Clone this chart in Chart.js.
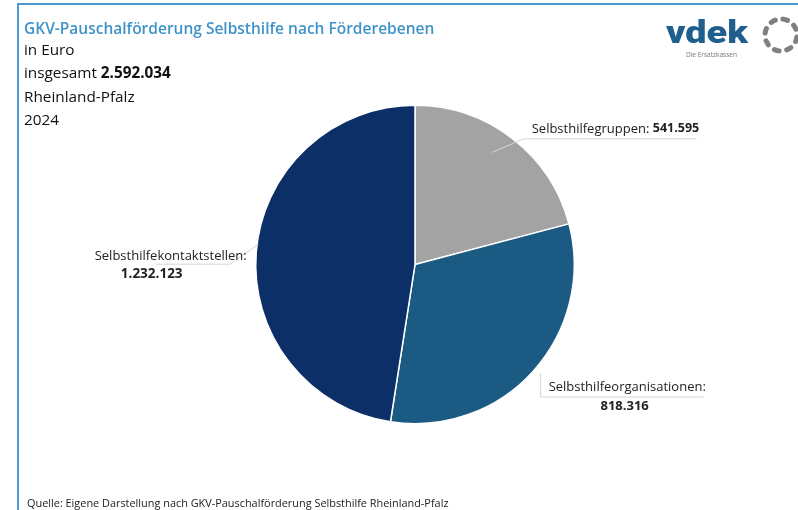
<!DOCTYPE html>
<html>
<head>
<meta charset="utf-8">
<script src="https://cdn.jsdelivr.net/npm/chart.js@4.4.1/dist/chart.umd.min.js"></script>
<style>
  html, body { margin: 0; padding: 0; background: #fff; }
  #wrap { position: relative; width: 798px; height: 510px; overflow: hidden; font-family: "Open Sans", sans-serif; }
  #frameTop { position: absolute; left: 17px; top: 3px; width: 781px; height: 2px; background: #4a9ad0; }
  #frameLeft { position: absolute; left: 17px; top: 3px; width: 2px; height: 507px; background: #4a9ad0; }
  #c { position: absolute; left: 0; top: 0; }
  .t { position: absolute; white-space: nowrap; }
  #title { left: 24px; top: 17px; font-size: 15.5px; font-weight: 600; color: #3f93c9; }
  .sub { left: 24px; font-size: 15.3px; color: #111; }
  #vdek { left: 666px; top: 14px; font-family: "Roboto", sans-serif; font-weight: 900; font-size: 31px; color: #1e5f8e; transform: scale(1.22, 1); transform-origin: left top; }
  #ersatz { left: 686px; top: 50px; font-size: 6.5px; color: #777; }
  #source { left: 27px; top: 495px; font-size: 10.9px; color: #222; }
</style>
</head>
<body>
<div id="wrap">
  <canvas id="c" width="798" height="510"></canvas>
  <div id="frameTop"></div>
  <div id="frameLeft"></div>
  <div class="t" id="title">GKV-Pauschalförderung Selbsthilfe nach Förderebenen</div>
  <div class="t sub" style="top:39px">in Euro</div>
  <div class="t sub" style="top:62px">insgesamt <b>2.592.034</b></div>
  <div class="t sub" style="top:86px">Rheinland-Pfalz</div>
  <div class="t sub" style="top:109px">2024</div>
  <div class="t" id="vdek">vdek</div>
  <div class="t" id="ersatz">Die Ersatzkassen</div>
  <div class="t" id="source">Quelle: Eigene Darstellung nach GKV-Pauschalförderung Selbsthilfe Rheinland-Pfalz</div>
</div>
<script>
const categories = ["Selbsthilfegruppen", "Selbsthilfeorganisationen", "Selbsthilfekontaktstellen"];
const values = [541595, 818316, 1232123];
const valueLabels = ["541.595", "818.316", "1.232.123"];
const colors = ["#a3a3a3", "#1b5a82", "#0b2f66"];

const labelPlugin = {
  id: 'sliceLabels',
  afterDraw(chart) {
    const ctx = chart.ctx;
    const meta = chart.getDatasetMeta(0);
    // logo dotted ring
    ctx.save();
    ctx.strokeStyle = '#808080';
    ctx.lineWidth = 5;
    ctx.lineCap = 'round';
    const cxL = 781, cyL = 35, rL = 16, n = 8;
    for (let i = 0; i < n; i++) {
      const a0 = (i / n) * Math.PI * 2 + 0.12;
      ctx.beginPath();
      ctx.arc(cxL, cyL, rL, a0, a0 + 0.3);
      ctx.stroke();
    }
    ctx.restore();

    meta.data.forEach((arc, i) => {
      const p = arc.getProps(['x', 'y', 'startAngle', 'endAngle', 'outerRadius'], true);
      const mid = (p.startAngle + p.endAngle) / 2;
      const cos = Math.cos(mid), sin = Math.sin(mid);
      const ex = p.x + cos * p.outerRadius, ey = p.y + sin * p.outerRadius;
      ctx.save();
      ctx.strokeStyle = '#d4d4d4';
      ctx.lineWidth = 1;
      ctx.font = '13px "Open Sans", sans-serif';
      ctx.fillStyle = '#222';
      ctx.textBaseline = 'middle';
      if (i === 0) {
        const lx = p.x + cos * p.outerRadius * 1.17 + 3, ly = p.y + sin * p.outerRadius * 1.17 + 12;
        ctx.beginPath(); ctx.moveTo(ex - 20, ey + 14); ctx.lineTo(lx - 8, ly + 10); ctx.lineTo(lx + 165, ly + 10); ctx.stroke();
        ctx.textAlign = 'left';
        const t1 = categories[i] + ': ';
        ctx.fillText(t1, lx, ly);
        const w = ctx.measureText(t1).width;
        ctx.font = 'bold 12.5px "Open Sans", sans-serif';
        ctx.fillText(valueLabels[i], lx + w, ly);
      } else if (i === 1) {
        const lx = p.x + cos * p.outerRadius * 1.13, ly = p.y + sin * p.outerRadius * 1.13 + 2;
        ctx.beginPath(); ctx.moveTo(lx - 8, ly - 14); ctx.lineTo(lx - 8, ly + 10); ctx.lineTo(lx + 155, ly + 10); ctx.stroke();
        ctx.textAlign = 'left';
        ctx.fillText(categories[i] + ':', lx, ly);
        ctx.font = 'bold 13px "Open Sans", sans-serif';
        ctx.textAlign = 'center';
        ctx.fillText(valueLabels[i], lx + 76, ly + 19);
      } else {
        const lx = p.x + cos * p.outerRadius * 1.06, ly = p.y + sin * p.outerRadius * 1.06 + 5;
        ctx.beginPath(); ctx.moveTo(ex + 2, ey - 8); ctx.lineTo(ex - 26, ey + 12); ctx.lineTo(ex - 100, ey + 12); ctx.stroke();
        ctx.textAlign = 'right';
        ctx.fillText(categories[i] + ':', lx, ly);
        ctx.font = 'bold 13.5px "Open Sans", sans-serif';
        ctx.textAlign = 'center';
        ctx.fillText(valueLabels[i], lx - 95, ly + 18);
      }
      ctx.restore();
    });
  }
};

new Chart(document.getElementById('c'), {
  type: 'pie',
  data: {
    labels: categories,
    datasets: [{
      data: values,
      backgroundColor: colors,
      borderColor: '#ffffff',
      borderWidth: 1.5
    }]
  },
  options: {
    responsive: false,
    animation: false,
    layout: { padding: { left: 255, right: 223, top: 104, bottom: 85 } },
    plugins: {
      legend: { display: false },
      tooltip: { enabled: false },
      title: { display: false }
    }
  },
  plugins: [labelPlugin]
});
</script>
</body>
</html>
